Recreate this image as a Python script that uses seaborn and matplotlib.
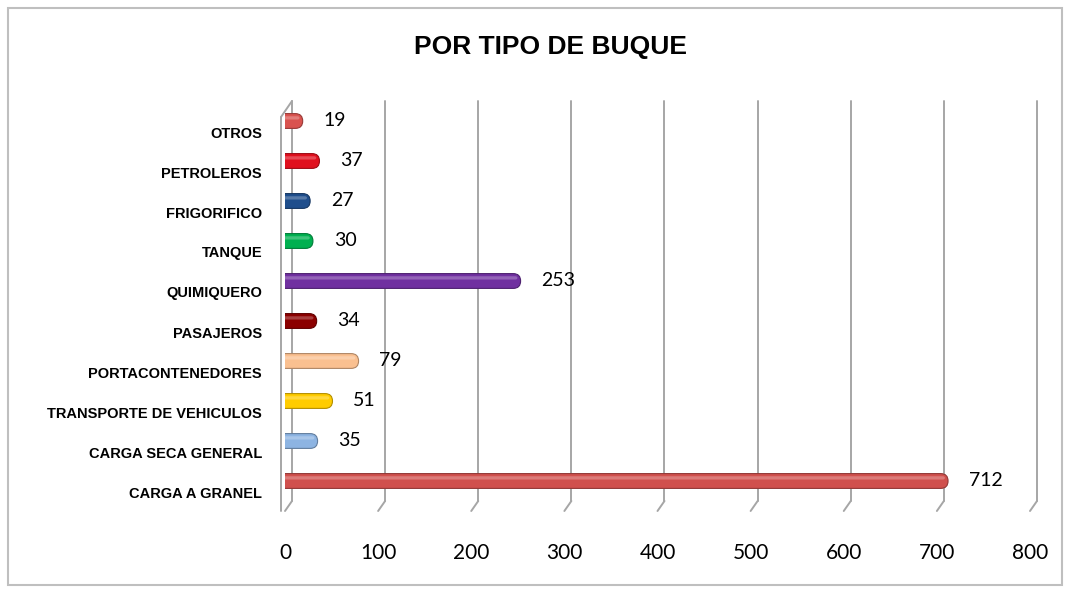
import matplotlib
matplotlib.use('Agg')
import pandas as pd
import matplotlib.pyplot as plt
import seaborn as sns
from matplotlib.patches import FancyBboxPatch, Rectangle
from matplotlib import transforms
import matplotlib.colors as mcolors

# Data (top row first)
categories = ['OTROS', 'PETROLEROS', 'FRIGORIFICO', 'TANQUE', 'QUIMIQUERO',
              'PASAJEROS', 'PORTACONTENEDORES', 'TRANSPORTE DE VEHICULOS',
              'CARGA SECA GENERAL', 'CARGA A GRANEL']
values = [19, 37, 27, 30, 253, 34, 79, 51, 35, 712]
bar_colors = ['#D9534F', '#E0101E', '#1F4E8C', '#00B050', '#7030A0',
              '#8B0000', '#FAC090', '#FFCC00', '#8DB4E2', '#D0504D']
xticks = [0, 100, 200, 300, 400, 500, 600, 700, 800]

df = pd.DataFrame({'tipo': categories, 'buques': values})

sns.set_theme(style='white')
plt.rcParams['font.family'] = ['Lato', 'DejaVu Sans']
plt.rcParams['text.color'] = 'black'
plt.rcParams['xtick.color'] = 'black'
plt.rcParams['ytick.color'] = 'black'

W, H = 1069, 592
fig = plt.figure(figsize=(W / 100, H / 100), dpi=100)
ax = fig.add_axes([285 / W, 1 - 501 / H, (1030 - 285) / W, 400 / H])

sns.barplot(data=df, x='buques', y='tipo', hue='tipo', order=categories,
            hue_order=categories, palette=bar_colors, width=0.37,
            saturation=1, legend=False, ax=ax)
ax.set_xlim(0, 800)
ax.set_ylim(9.5, -0.5)

# turn flat bars into rounded "cylinders"
px_x = (1030 - 285) / 800.0     # pixels per x unit
px_y = 40.0                     # pixels per category
for p in list(ax.patches):
    x0, y0 = p.get_x(), p.get_y()
    w, h = p.get_width(), p.get_height()
    col = p.get_facecolor()
    p.remove()
    h_px = h * px_y
    r = h_px / 2 / px_x
    aspect = h / (h_px / px_x)
    dark = tuple(c * 0.7 for c in mcolors.to_rgb(col))
    ax.add_patch(FancyBboxPatch((x0 - r, y0), w + r, h,
                                boxstyle=f'round,pad=0,rounding_size={r}',
                                mutation_aspect=aspect, facecolor=col,
                                edgecolor=dark, linewidth=0.8, zorder=3))
    ax.add_patch(FancyBboxPatch((x0 - r, y0 + h * 0.18), w + r * 0.6, h * 0.22,
                                boxstyle=f'round,pad=0,rounding_size={r * 0.3}',
                                mutation_aspect=aspect, facecolor='white',
                                edgecolor='none', alpha=0.25, zorder=4))

# value labels
for i, v in enumerate(values):
    ax.annotate(str(v), xy=(v, i), xytext=(15, 0), textcoords='offset points',
                ha='left', va='center', fontsize=14, color='black', zorder=5)

# 3D-like back wall grid lines with slanted feet
shift = transforms.ScaledTranslation(7 / 100, 0, fig.dpi_scale_trans)
foot = transforms.ScaledTranslation(0, -10 / 100, fig.dpi_scale_trans)
blend = transforms.blended_transform_factory(ax.transData, ax.transAxes)
for t in xticks:
    ax.plot([t, t], [0, 1], color='#A6A6A6', lw=1.4, transform=blend + shift,
            clip_on=False, zorder=1)
    ax.annotate('', xy=(t, 0), xycoords=blend + foot,
                xytext=(t, 0), textcoords=blend + shift,
                arrowprops=dict(arrowstyle='-', color='#A6A6A6', lw=1.4,
                                shrinkA=0, shrinkB=0))
# left wall outer edge
left_out = transforms.ScaledTranslation(-4 / 100, 0, fig.dpi_scale_trans)
ax.plot([0, 0], [0, 0.985], color='#A6A6A6', lw=1.4,
        transform=blend + left_out + foot, clip_on=False)
ax.annotate('', xy=(0, 1), xycoords=blend + shift,
            xytext=(0, 0.985), textcoords=blend + left_out + foot,
            arrowprops=dict(arrowstyle='-', color='#A6A6A6', lw=1.4,
                            shrinkA=0, shrinkB=0))

for s in ax.spines.values():
    s.set_visible(False)

ax.set_xticks(xticks)
ax.set_xticklabels([str(t) for t in xticks], fontsize=15)
ax.tick_params(axis='x', length=0, pad=30)
ax.tick_params(axis='y', length=0, pad=16.5)
ax.set_yticks(range(len(categories)))
ax.set_yticklabels(categories, fontsize=10.5, fontweight='bold',
                   family=['Liberation Sans', 'DejaVu Sans'])
down = transforms.ScaledTranslation(0, -11 / 100, fig.dpi_scale_trans)
for lab in ax.get_yticklabels():
    lab.set_transform(lab.get_transform() + down)
ax.set_xlabel('')
ax.set_ylabel('')

fig.text(551 / W, 1 - 47 / H, 'POR TIPO DE BUQUE', ha='center', va='center',
         fontsize=19, fontweight='bold', family=['Liberation Sans', 'DejaVu Sans'])

# chart border
fig.patches.append(Rectangle((8 / W, 1 - 585 / H), 1054 / W, 577 / H,
                             transform=fig.transFigure, fill=False,
                             edgecolor='#BFBFBF', lw=1.5))

plt.savefig('out.png', dpi=100)
